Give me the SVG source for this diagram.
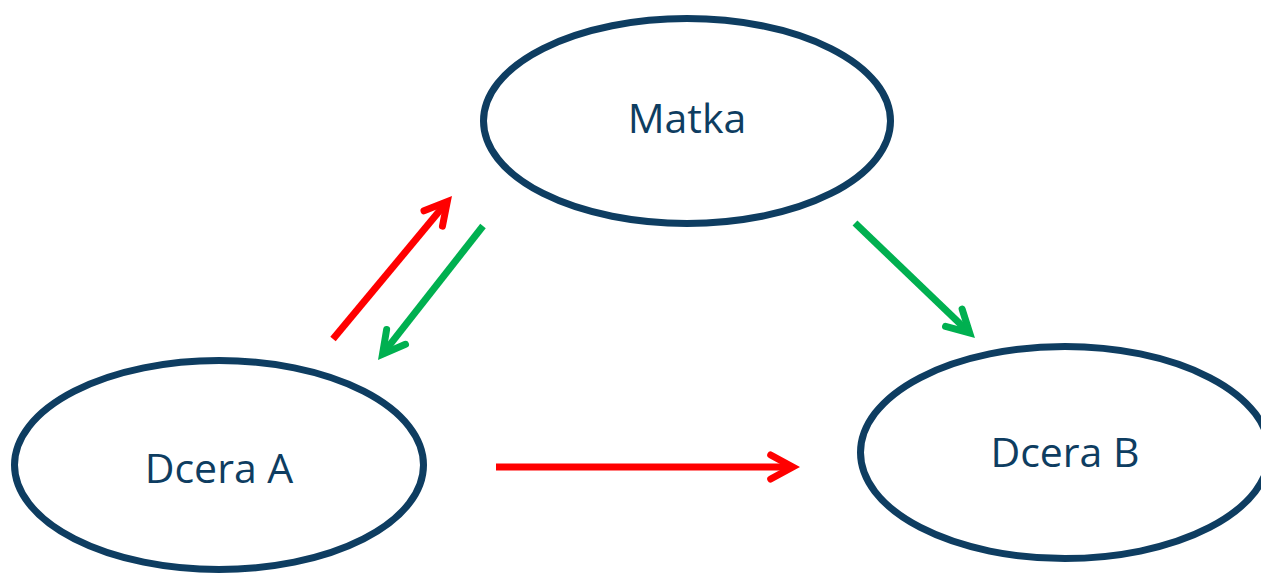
<svg xmlns="http://www.w3.org/2000/svg" width="1261" height="574" viewBox="0 0 1261 574">
  <style>
    .node ellipse { fill: #ffffff; stroke: #0E3D61; stroke-width: 7; }
    .node text { font-family: "Open Sans", "Noto Sans", "Liberation Sans", sans-serif; font-size: 41px; fill: #0E3D61; text-anchor: middle; }
    .red { stroke: #FF0000; stroke-width: 7; fill: none; marker-end: url(#ahRed); }
    .green { stroke: #00B050; stroke-width: 7; fill: none; marker-end: url(#ahGreen); }
  </style>
  <defs>
    <marker id="ahRed" viewBox="-30 -20 40 40" refX="0" refY="0" markerWidth="40" markerHeight="40" markerUnits="userSpaceOnUse" orient="auto">
      <path d="M-22,-12 L0,0 L-22,12" fill="none" stroke="#FF0000" stroke-width="7" stroke-linecap="round" stroke-linejoin="miter"/>
    </marker>
    <marker id="ahGreen" viewBox="-30 -20 40 40" refX="0" refY="0" markerWidth="40" markerHeight="40" markerUnits="userSpaceOnUse" orient="auto">
      <path d="M-22,-12 L0,0 L-22,12" fill="none" stroke="#00B050" stroke-width="7" stroke-linecap="round" stroke-linejoin="miter"/>
    </marker>
  </defs>
  <rect width="1261" height="574" fill="#ffffff"/>
  <g id="node-matka" class="node">
    <ellipse cx="687" cy="121" rx="203.5" ry="102.5"/>
    <text x="687" y="133">Matka</text>
  </g>
  <g id="node-dcera-a" class="node">
    <ellipse cx="219" cy="465" rx="204.5" ry="104.5"/>
    <text x="219" y="483">Dcera A</text>
  </g>
  <g id="node-dcera-b" class="node">
    <ellipse cx="1065" cy="452.5" rx="204.5" ry="106"/>
    <text x="1065" y="467">Dcera B</text>
  </g>
  <g id="connectors">
    <line class="red" x1="333" y1="339" x2="447.3" y2="201.6"/>
    <line class="green" x1="483" y1="226" x2="382.5" y2="354.2"/>
    <line class="green" x1="855" y1="223" x2="969.7" y2="333"/>
    <line class="red" x1="496" y1="467" x2="792.7" y2="467"/>
  </g>
</svg>
